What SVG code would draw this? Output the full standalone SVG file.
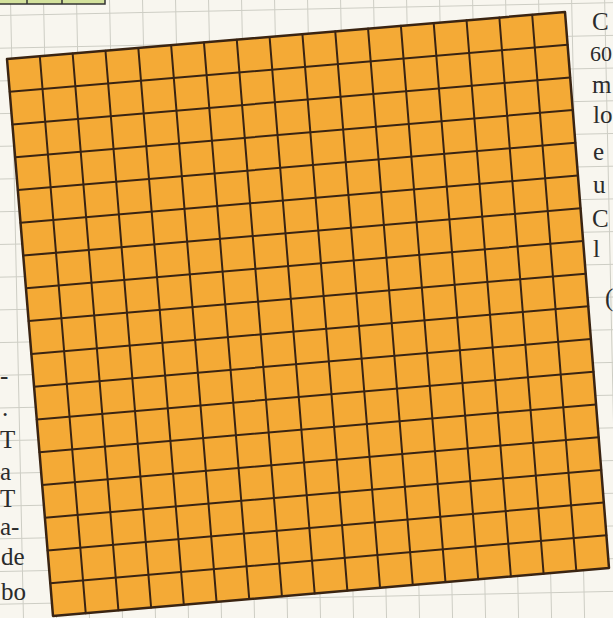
<svg xmlns="http://www.w3.org/2000/svg" width="613" height="618" viewBox="0 0 613 618">
<defs>
<style>
.txt{font-family:"Liberation Serif","Times New Roman",serif;font-size:25px;fill:#2b2b2b}
.g{stroke:#3a2412;stroke-width:2;fill:none;stroke-linecap:round}
</style>
<pattern id="paper" width="33" height="32.7" patternUnits="userSpaceOnUse" patternTransform="rotate(-1.2) translate(10,15)">
<path d="M0 0V32.7M0 0H33" stroke="#cdcdc4" stroke-width="2" fill="none"/>
</pattern>
</defs>
<rect width="613" height="618" fill="#f8f6ef"/>
<rect width="613" height="618" fill="url(#paper)"/>
<g id="strip">
<rect x="-2" y="-2" width="107" height="6" fill="#d3e19c" stroke="#333" stroke-width="1.5"/>
<path d="M27 0V4M62 0V4" stroke="#333" stroke-width="1.5"/>
</g>
<g id="left-text" class="txt">
<text x="0" y="384">-</text>
<text x="2" y="416">.</text>
<text x="0" y="448">T</text>
<text x="0" y="480">a</text>
<text x="0" y="507">T</text>
<text x="0" y="535">a-</text>
<text x="1" y="565">de</text>
<text x="1" y="600">bo</text>
</g>
<g id="right-text" class="txt">
<text x="592" y="30">C</text>
<text x="590" y="61" style="font-size:22px">60</text>
<text x="592" y="93">m</text>
<text x="593" y="123">lo</text>
<text x="593" y="160">e</text>
<text x="593" y="193">u</text>
<text x="592" y="227">C</text>
<text x="593" y="257">l</text>
<text x="605" y="306">(</text>
</g>
<g id="orange-grid">
<polygon points="7,59 565,12 609,568 53,616" fill="#f4aa36" stroke="#3a2412" stroke-width="2.5" stroke-linejoin="round"/>
<g id="connectors" class="g">
<path d="M39.82 56.24L85.71 613.18M72.65 53.47L118.41 610.35M105.47 50.71L151.12 607.53M138.30 47.94L183.82 604.71M171.12 45.18L216.53 601.88M203.94 42.41L249.24 599.06M236.77 39.65L281.94 596.24M269.59 36.88L314.65 593.41M302.42 34.12L347.35 590.59M335.24 31.35L380.06 587.76M368.06 28.59L412.76 584.94M400.89 25.82L445.47 582.12M433.71 23.06L478.18 579.29M466.54 20.29L510.88 576.47M499.36 17.53L543.59 573.65M532.18 14.76L576.29 570.82"/>
<path d="M9.71 91.76L567.59 44.71M12.41 124.53L570.18 77.41M15.12 157.29L572.76 110.12M17.82 190.06L575.35 142.82M20.53 222.82L577.94 175.53M23.24 255.59L580.53 208.24M25.94 288.35L583.12 240.94M28.65 321.12L585.71 273.65M31.35 353.88L588.29 306.35M34.06 386.65L590.88 339.06M36.76 419.41L593.47 371.76M39.47 452.18L596.06 404.47M42.18 484.94L598.65 437.18M44.88 517.71L601.24 469.88M47.59 550.47L603.82 502.59M50.29 583.24L606.41 535.29"/>
</g>
</g>
</svg>
